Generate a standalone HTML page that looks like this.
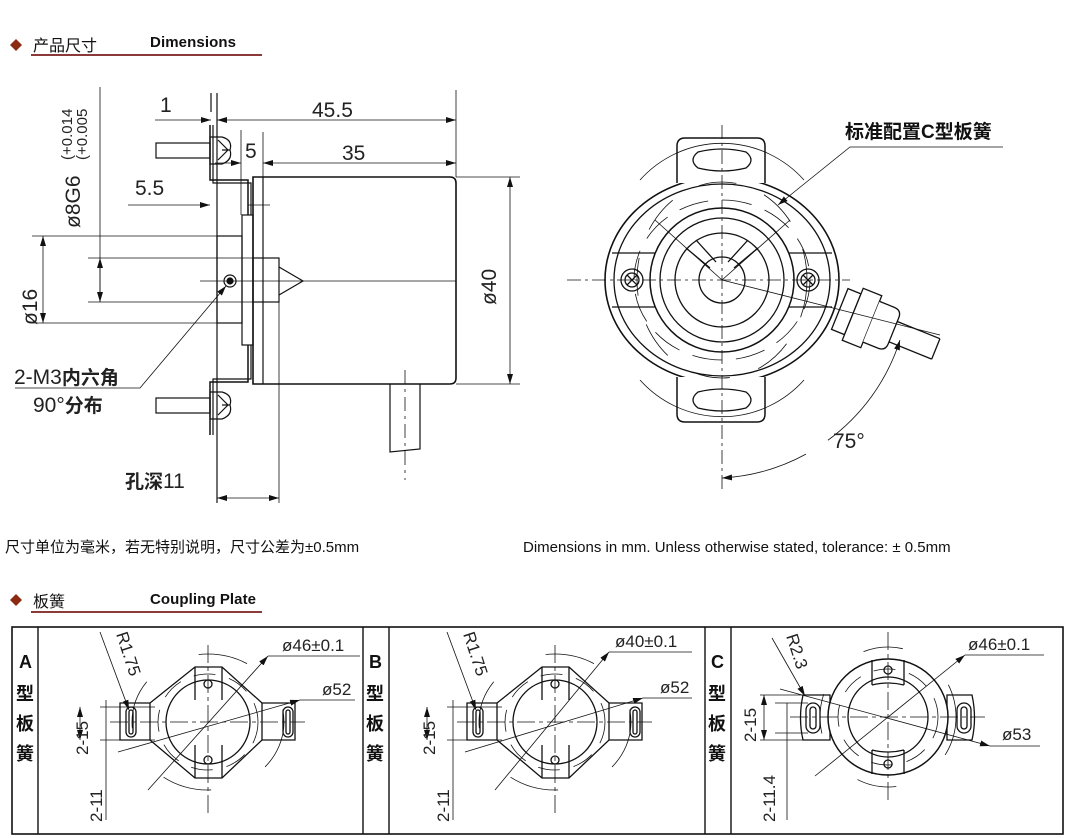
<!DOCTYPE html>
<html><head><meta charset="utf-8"><style>
html,body{margin:0;padding:0;background:#fff;}
svg{display:block;}
text{font-family:"Liberation Sans","Noto Sans CJK SC",sans-serif;}
.d{font-size:21px;fill:#222;}
.s{font-size:17px;fill:#222;}
</style></head><body>
<svg width="1069" height="838" viewBox="0 0 1069 838" xmlns="http://www.w3.org/2000/svg">
<defs>
<marker id="a" viewBox="0 0 10 6" refX="10" refY="3" markerWidth="10" markerHeight="6" orient="auto-start-reverse" markerUnits="userSpaceOnUse"><path d="M0,0 L10,3 L0,6z" fill="#111"/></marker>
</defs>
<path d="M16,39 L22,45 L16,51 L10,45z" fill="#8b2a10"/>
<text x="33" y="51" font-size="16" fill="#111">产品尺寸</text>
<text x="150" y="47" font-size="15" font-weight="bold" fill="#111" textLength="86">Dimensions</text>
<line x1="31" y1="55" x2="262" y2="55" stroke="#8b3a3a" stroke-width="2"/>

<g stroke="#111" stroke-width="1.2" fill="none">
<line x1="217" y1="93" x2="217" y2="503"/>
<line x1="211" y1="93" x2="211" y2="112"/>
<rect x="217" y="236" width="25" height="87"/>
<rect x="242" y="215" width="11" height="130"/>
<path d="M253,177 L450,177 Q456,177 456,183 L456,378 Q456,384 450,384 L253,384z" stroke-width="1.6"/>
<line x1="263" y1="177" x2="263" y2="384"/>
<rect x="253" y="258" width="26" height="44"/>
<path d="M279,267 L303,281 L279,295"/>
<path d="M210,125 L210,180 L248,180 L248,215" stroke-width="1.5"/>
<path d="M213,125 L213,183 L251,183 L251,215"/>
<path d="M210,435 L210,382 L248,382 L248,345" stroke-width="1.5"/>
<path d="M213,435 L213,379 L251,379 L251,345"/>
<rect x="156" y="143" width="54" height="15"/>
<path d="M210,137 L222,137 Q233,140 230,150 Q233,160 222,164 L210,164z"/>
<path d="M218,140 L228,150 L218,160 M222,150 L230,150"/>
<rect x="156" y="398" width="54" height="15"/>
<path d="M210,392 L222,392 Q233,395 230,405 Q233,415 222,419 L210,419z"/>
<path d="M218,395 L228,405 L218,415 M222,405 L230,405"/>
<circle cx="230" cy="281" r="6"/><circle cx="230" cy="281" r="3" fill="#111"/>
<path d="M390,384 L390,452 L420,449 L420,384"/>
<line x1="405" y1="370" x2="405" y2="480" stroke-dasharray="14,5,3,5" stroke-width="0.8"/>
<line x1="200" y1="281" x2="313" y2="281" stroke-width="0.8"/>
<line x1="313" y1="281" x2="456" y2="281" stroke-width="0.8"/>
<line x1="456" y1="90" x2="456" y2="177" stroke-width="0.8"/>
<line x1="155" y1="120" x2="211" y2="120" stroke-width="0.8" marker-end="url(#a)"/>
<line x1="217" y1="120" x2="456" y2="120" stroke-width="0.8" marker-start="url(#a)" marker-end="url(#a)"/>
<line x1="241" y1="130" x2="241" y2="215" stroke-width="0.8"/>
<line x1="263" y1="132" x2="263" y2="177" stroke-width="0.8"/>
<line x1="215" y1="163" x2="241" y2="163" stroke-width="0.8" marker-end="url(#a)"/>
<line x1="263" y1="163" x2="456" y2="163" stroke-width="0.8" marker-start="url(#a)" marker-end="url(#a)"/>
<line x1="128" y1="205" x2="210" y2="205" stroke-width="0.8" marker-end="url(#a)"/>
<line x1="248" y1="205" x2="270" y2="205" stroke-width="0.8"/>
<line x1="32" y1="236" x2="217" y2="236" stroke-width="0.8"/>
<line x1="32" y1="323" x2="217" y2="323" stroke-width="0.8"/>
<line x1="43" y1="236" x2="43" y2="323" stroke-width="0.8" marker-start="url(#a)" marker-end="url(#a)"/>
<line x1="88" y1="258" x2="253" y2="258" stroke-width="0.8"/>
<line x1="88" y1="302" x2="253" y2="302" stroke-width="0.8"/>
<line x1="100" y1="87" x2="100" y2="302" stroke-width="0.8"/>
<line x1="100" y1="258" x2="100" y2="302" stroke-width="0.8" marker-start="url(#a)" marker-end="url(#a)"/>
<line x1="456" y1="177" x2="520" y2="177" stroke-width="0.8"/>
<line x1="456" y1="384" x2="520" y2="384" stroke-width="0.8"/>
<line x1="510" y1="177" x2="510" y2="384" stroke-width="0.8" marker-start="url(#a)" marker-end="url(#a)"/>
<line x1="279" y1="302" x2="279" y2="503" stroke-width="0.8"/>
<line x1="217" y1="498" x2="279" y2="498" stroke-width="0.8" marker-start="url(#a)" marker-end="url(#a)"/>
<path d="M15,388 L140,388 L226,286" stroke-width="0.8" marker-end="url(#a)"/>
</g>
<text class="d" x="160" y="112">1</text>
<text class="d" x="312" y="117">45.5</text>
<text class="d" x="245" y="158">5</text>
<text class="d" x="342" y="160">35</text>
<text class="d" x="135" y="195">5.5</text>
<text class="d" transform="translate(37,325) rotate(-90)">ø16</text>
<text class="d" transform="translate(80,228) rotate(-90)">ø8G6</text>
<text font-size="15" fill="#222" transform="translate(72,160) rotate(-90)">(+0.014</text>
<text font-size="15" fill="#222" transform="translate(87,160) rotate(-90)">(+0.005</text>
<text class="d" transform="translate(496,305) rotate(-90)">ø40</text>
<text class="d" x="14" y="384">2-M3<tspan font-weight="bold" font-size="19">内六角</tspan></text>
<text class="d" x="33" y="412">90°<tspan font-weight="bold" font-size="19">分布</tspan></text>
<text class="d" x="125" y="488"><tspan font-weight="bold" font-size="19">孔深</tspan>11</text>

<g stroke="#111" stroke-width="1.3" fill="none">
<ellipse cx="722" cy="280" rx="117" ry="103" stroke-width="1.6"/>
<ellipse cx="722" cy="280" rx="108" ry="96"/>
<path d="M612,253 L832,253 M612,307 L832,307"/>
<circle cx="722" cy="280" r="72" fill="#fff" stroke-width="1.5"/>
<circle cx="722" cy="280" r="62"/>
<circle cx="722" cy="280" r="47"/>
<circle cx="722" cy="280" r="23"/>
<path d="M686,248 L710,268 M696,240 L716,262 M758,248 L734,268 M748,240 L728,262"/>
<path d="M677,183 L677,146 Q677,138 685,138 L757,138 Q765,138 765,146 L765,183" fill="#fff" stroke-width="1.5"/>
<path d="M698,152 Q722,146 746,152 Q756,160 746,168 Q722,174 698,168 Q688,160 698,152z"/>
<path d="M677,377 L677,414 Q677,422 685,422 L757,422 Q765,422 765,414 L765,377" fill="#fff" stroke-width="1.5"/>
<path d="M698,392 Q722,386 746,392 Q756,400 746,408 Q722,414 698,408 Q688,400 698,392z"/>
<circle cx="632" cy="280" r="11"/><circle cx="632" cy="280" r="7"/><path d="M627,275 L637,285 M637,275 L627,285"/>
<circle cx="808" cy="280" r="11"/><circle cx="808" cy="280" r="7"/><path d="M803,275 L813,285 M813,275 L803,285"/>
<g transform="translate(862,318) rotate(22)">
<rect x="-24" y="-22" width="14" height="44" fill="#fff"/>
<rect x="-10" y="-28" width="20" height="56" fill="#fff"/>
<path d="M10,-22 L26,-22 Q34,-22 34,-14 L34,14 Q34,22 26,22 L10,22" fill="#fff"/>
<path d="M34,-10 L80,-10 M34,12 L80,12 M80,-10 L80,12"/>
</g>
<g stroke-width="0.8">
<line x1="567" y1="280" x2="850" y2="280" stroke-dasharray="14,4,3,4"/>
<line x1="722" y1="125" x2="722" y2="490" stroke-dasharray="14,4,3,4"/>
<ellipse cx="722" cy="280" rx="88" ry="80" stroke-dasharray="30,14"/>
<ellipse cx="722" cy="280" rx="85" ry="98" stroke-dasharray="38,30"/>
<path d="M640,180 A110,110 0 0 1 804,180"/>
<path d="M640,380 A110,110 0 0 0 804,380"/>
<line x1="655" y1="220" x2="722" y2="280"/>
<line x1="722" y1="280" x2="790" y2="220"/>
<line x1="722" y1="280" x2="940" y2="335"/>
<path d="M722,478 A198,198 0 0 0 900,340" marker-start="url(#a)" marker-end="url(#a)" stroke-dasharray="88,26,400"/>
<path d="M1003,147 L850,147 L778,205" marker-end="url(#a)"/>
</g>
</g>
<text x="845" y="138" font-size="19" font-weight="bold" fill="#111">标准配置C型板簧</text>
<text class="d" x="833" y="448">75°</text>

<text x="5" y="552" font-size="15" fill="#111">尺寸单位为毫米，若无特别说明，尺寸公差为±0.5mm</text>
<text x="523" y="552" font-size="15" fill="#111">Dimensions in mm. Unless otherwise stated, tolerance: ± 0.5mm</text>

<path d="M16,594 L22,600 L16,606 L10,600z" fill="#8b2a10"/>
<text x="33" y="607" font-size="16" fill="#111">板簧</text>
<text x="150" y="604" font-size="15" font-weight="bold" fill="#111" textLength="106">Coupling Plate</text>
<line x1="31" y1="612" x2="262" y2="612" stroke="#8b3a3a" stroke-width="2"/>

<g stroke="#111" fill="none">
<rect x="12" y="627" width="1051" height="207" stroke-width="1.6"/>
<path d="M38,627 V834 M363,627 V834 M389,627 V834 M705,627 V834 M731,627 V834" stroke-width="1.4"/>
</g>
<g font-size="18" font-weight="bold" fill="#111">
<text x="19" y="668">A</text><text x="16" y="700">型</text><text x="16" y="730">板</text><text x="16" y="760">簧</text>
<text x="369" y="668">B</text><text x="366" y="700">型</text><text x="366" y="730">板</text><text x="366" y="760">簧</text>
<text x="711" y="668">C</text><text x="708" y="700">型</text><text x="708" y="730">板</text><text x="708" y="760">簧</text>
</g>

<g>
<g stroke="#111" fill="none" stroke-width="1.3">
<path d="M195,667 L222,667 L262,703 L295,703 L295,740 L262,740 L222,778 L195,778 L150,740 L120,740 L120,703 L150,703z" fill="#fff"/>
<circle cx="208" cy="722" r="42"/>
<path d="M195,667 V700 M222,667 V700 M195,778 V745 M222,778 V745 M150,703 V740 M262,703 V740"/>
<rect x="126" y="707" width="10" height="30" rx="5"/><rect x="129" y="710" width="4" height="24" rx="2"/>
<rect x="283" y="707" width="10" height="30" rx="5"/><rect x="286" y="710" width="4" height="24" rx="2"/>
<circle cx="208" cy="684" r="4"/><circle cx="208" cy="760" r="4"/>
<g stroke-width="0.8">
<line x1="208" y1="645" x2="208" y2="815" stroke-dasharray="18,4,4,4"/>
<line x1="110" y1="722" x2="305" y2="722" stroke-dasharray="18,4,4,4"/>
<ellipse cx="208" cy="722" rx="50" ry="48" stroke-dasharray="22,14"/>
<ellipse cx="208" cy="722" rx="76" ry="68" stroke-dasharray="50,60"/>
<path d="M100,707 L155,707 M100,740 L155,740"/>
<line x1="80" y1="707" x2="80" y2="740" marker-start="url(#a)" marker-end="url(#a)"/>
<line x1="106" y1="700" x2="106" y2="820"/>
<line x1="360" y1="656" x2="268" y2="656"/>
<line x1="268" y1="656" x2="148" y2="790" marker-start="url(#a)"/>
<line x1="355" y1="700" x2="300" y2="700"/>
<line x1="300" y1="700" x2="118" y2="752" marker-start="url(#a)"/>
<line x1="100" y1="632" x2="129" y2="710" marker-end="url(#a)"/>
</g>
</g>
<text class="s" transform="translate(116,634) rotate(72)">R1.75</text>
<text class="s" transform="translate(88,755) rotate(-90)">2-15</text>
<text class="s" transform="translate(102,822) rotate(-90)">2-11</text>
<text class="s" x="282" y="651">ø46±0.1</text>
<text class="s" x="322" y="695">ø52</text>
</g>
<g transform="translate(347,0)">
<g stroke="#111" fill="none" stroke-width="1.3">
<path d="M195,667 L222,667 L262,703 L295,703 L295,740 L262,740 L222,778 L195,778 L150,740 L120,740 L120,703 L150,703z" fill="#fff"/>
<circle cx="208" cy="722" r="42"/>
<path d="M195,667 V700 M222,667 V700 M195,778 V745 M222,778 V745 M150,703 V740 M262,703 V740"/>
<rect x="126" y="707" width="10" height="30" rx="5"/><rect x="129" y="710" width="4" height="24" rx="2"/>
<rect x="283" y="707" width="10" height="30" rx="5"/><rect x="286" y="710" width="4" height="24" rx="2"/>
<circle cx="208" cy="684" r="4"/><circle cx="208" cy="760" r="4"/>
<g stroke-width="0.8">
<line x1="208" y1="645" x2="208" y2="815" stroke-dasharray="18,4,4,4"/>
<line x1="110" y1="722" x2="305" y2="722" stroke-dasharray="18,4,4,4"/>
<ellipse cx="208" cy="722" rx="50" ry="48" stroke-dasharray="22,14"/>
<ellipse cx="208" cy="722" rx="76" ry="68" stroke-dasharray="50,60"/>
<path d="M100,707 L155,707 M100,740 L155,740"/>
<line x1="80" y1="707" x2="80" y2="740" marker-start="url(#a)" marker-end="url(#a)"/>
<line x1="106" y1="700" x2="106" y2="820"/>
<line x1="345" y1="652" x2="262" y2="652"/>
<line x1="262" y1="652" x2="148" y2="790" marker-start="url(#a)"/>
<line x1="345" y1="698" x2="296" y2="698"/>
<line x1="296" y1="698" x2="118" y2="752" marker-start="url(#a)"/>
<line x1="100" y1="632" x2="129" y2="710" marker-end="url(#a)"/>
</g>
</g>
<text class="s" transform="translate(116,634) rotate(72)">R1.75</text>
<text class="s" transform="translate(88,755) rotate(-90)">2-15</text>
<text class="s" transform="translate(102,822) rotate(-90)">2-11</text>
<text class="s" x="268" y="647">ø40±0.1</text>
<text class="s" x="313" y="693">ø52</text>
</g>

<g stroke="#111" fill="none" stroke-width="1.3">
<path d="M830,695 L830,740 L803,740 Q798,718 803,695z"/>
<path d="M947,695 L947,740 L972,740 Q977,718 972,695z"/>
<ellipse cx="888" cy="717" rx="60" ry="58" fill="#fff" stroke-width="1.5"/>
<circle cx="888" cy="717" r="40"/>
<path d="M872,660 V685 M904,660 V685 M872,774 V750 M904,774 V750 M872,685 Q888,681 904,685 M872,750 Q888,754 904,750"/>
<rect x="806" y="703" width="14" height="30" rx="7"/><rect x="810" y="707" width="6" height="22" rx="3"/>
<rect x="957" y="703" width="14" height="30" rx="7"/><rect x="961" y="707" width="6" height="22" rx="3"/>
<circle cx="888" cy="670" r="4"/><circle cx="888" cy="764" r="4"/>
<g stroke-width="0.8">
<line x1="888" y1="632" x2="888" y2="802" stroke-dasharray="18,4,4,4"/>
<line x1="790" y1="717" x2="985" y2="717" stroke-dasharray="18,4,4,4"/>
<ellipse cx="888" cy="717" rx="50" ry="48" stroke-dasharray="22,14"/>
<ellipse cx="888" cy="717" rx="68" ry="70" stroke-dasharray="40,60"/>
<path d="M760,695 L830,695 M760,740 L830,740 M775,703 L808,703 M775,733 L808,733"/>
<line x1="764" y1="695" x2="764" y2="740" marker-start="url(#a)" marker-end="url(#a)"/>
<line x1="787" y1="703" x2="787" y2="820"/>
<line x1="1044" y1="655" x2="965" y2="655"/>
<line x1="965" y1="655" x2="815" y2="776" marker-start="url(#a)"/>
<line x1="1040" y1="746" x2="990" y2="746"/>
<line x1="990" y1="746" x2="780" y2="689" marker-start="url(#a)"/>
<line x1="772" y1="638" x2="805" y2="696" marker-end="url(#a)"/>
</g>
</g>
<text class="s" transform="translate(786,636) rotate(72)">R2.3</text>
<text class="s" transform="translate(756,742) rotate(-90)">2-15</text>
<text class="s" transform="translate(775,822) rotate(-90)">2-11.4</text>
<text class="s" x="968" y="650">ø46±0.1</text>
<text class="s" x="1002" y="740">ø53</text>
</svg>
</body></html>
